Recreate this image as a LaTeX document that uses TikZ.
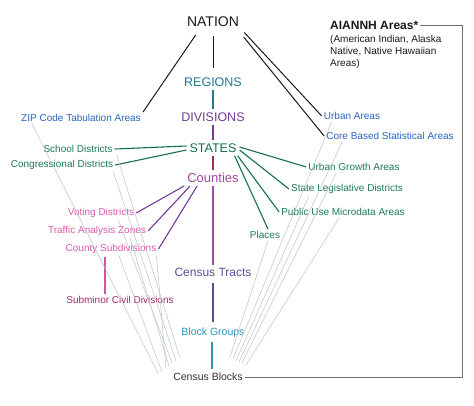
\documentclass[tikz,border=0pt]{standalone}
\usepackage{fontspec}
\setmainfont{Liberation Sans}
\usetikzlibrary{calc}
\definecolor{nero}{RGB}{25,25,25}
\definecolor{regcol}{RGB}{30,120,150}
\definecolor{divcol}{RGB}{115,60,150}
\definecolor{stcol}{RGB}{20,110,80}
\definecolor{cntcol}{RGB}{165,70,160}
\definecolor{trcol}{RGB}{95,75,155}
\definecolor{bgcol}{RGB}{40,150,180}
\definecolor{blcol}{RGB}{50,50,50}
\definecolor{blu}{RGB}{40,100,190}
\definecolor{verde}{RGB}{30,120,85}
\definecolor{rosa}{RGB}{220,90,170}
\definecolor{bordo}{RGB}{165,45,95}
\definecolor{grigio}{RGB}{185,193,205}
\definecolor{cornice}{RGB}{110,110,110}

\begin{document}
\begin{tikzpicture}[x = 1pt, y = -1pt,
    lbl/.style = {font = \fontsize{10}{12}\selectfont, inner sep = 2pt},
    liv/.style = {font = \fontsize{12.5}{14}\selectfont, inner sep = 3pt},
    nat/.style = {line width = 1pt, nero},
    ramo/.style = {line width = 1.1pt},
    fascio/.style = {line width = 0.5pt, grigio}]
    % Parametri
    \pgfmathsetmacro{\cx}{213}
    \useasboundingbox (0,0) rectangle (474,405);
    % Livelli
    \node[liv, font = \fontsize{14}{16}\selectfont, text = nero] (nation) at (\cx,22) {NATION};
    \node[liv, text = regcol] (regions) at (\cx,82) {REGIONS};
    \node[liv, text = divcol] (divisions) at (\cx,117) {DIVISIONS};
    \node[liv, text = stcol] (states) at (\cx,148) {STATES};
    \node[liv, font = \fontsize{13}{15}\selectfont, text = cntcol] (counties) at (\cx,178) {Counties};
    \node[liv, font = \fontsize{12}{14}\selectfont, text = trcol] (tracts) at (\cx,272) {Census Tracts};
    \node[lbl, font = \fontsize{10.5}{12}\selectfont, text = bgcol] (bgroups) at (\cx,333) {Block Groups};
    \node[lbl, font = \fontsize{10.5}{12}\selectfont, text = blcol] (blocks) at (208,377) {Census Blocks};
    % Etichette
    \node[lbl, text = blu] (zip) at (81,118) {ZIP Code Tabulation Areas};
    \node[lbl, text = verde] (school) at (78,149) {School Districts};
    \node[lbl, text = verde] (congr) at (62,165) {Congressional Districts};
    \node[lbl, text = rosa] (voting) at (101,213) {Voting Districts};
    \node[lbl, text = rosa] (traffic) at (97,231) {Traffic Analysis Zones};
    \node[lbl, text = rosa] (countysub) at (111,249) {County Subdivisions};
    \node[lbl, text = bordo] (subminor) at (120,300) {Subminor Civil Divisions};
    \node[lbl, text = blu] (urban) at (352,116) {Urban Areas};
    \node[lbl, text = blu] (cbsa) at (390,136) {Core Based Statistical Areas};
    \node[lbl, text = verde] (ugrowth) at (354,167) {Urban Growth Areas};
    \node[lbl, text = verde] (stateleg) at (347,189) {State Legislative Districts};
    \node[lbl, text = verde] (puma) at (343,212) {Public Use Microdata Areas};
    \node[lbl, text = verde] (places) at (265,235) {Places};
    \node[lbl, anchor = west, font = \fontsize{12}{14}\selectfont\bfseries, text = nero] (aiannh) at (328,25) {AIANNH Areas*};
    \node[lbl, anchor = north west, align = left, text = nero] (aiannhtxt) at (328,33) {(American Indian, Alaska\\Native, Native Hawaiian\\Areas)};
    % Colonna centrale
    \draw[nat, shorten <= 6pt, shorten >= 6pt] (nation) -- (regions);
    \draw[ramo, regcol] (regions) -- (divisions);
    \draw[ramo, divcol] (divisions) -- (states);
    \draw[ramo, bordo] (states) -- (counties);
    \draw[ramo, cntcol] (counties) -- (tracts);
    \draw[ramo, trcol, shorten <= 4pt, shorten >= 4pt] (tracts) -- (bgroups);
    \draw[ramo, bgcol, shorten <= 2pt, shorten >= 2pt] ([xshift = -1pt]bgroups.south) -- ([xshift = -1pt]bgroups.south |- blocks.north);
    % Da NATION
    \draw[nat, shorten <= 6pt] ([xshift = -14pt]nation.south) -- (zip.north east);
    \draw[nat, shorten <= 3pt] (nation.south east) -- (urban.west);
    \draw[nat, shorten <= 9pt] ([xshift = -4pt]nation.south east) -- (cbsa.west);
    % Da STATES
    \draw[ramo, stcol] ([yshift = 2pt]states.west) -- (school.east);
    \draw[ramo, stcol] ([yshift = -2pt]states.west) -- (congr.east);
    \draw[ramo, stcol] ([yshift = 1pt]states.east) -- (ugrowth.west);
    \draw[ramo, stcol] ([yshift = -2pt]states.east) -- (stateleg.west);
    \draw[ramo, stcol] ([xshift = -2pt]states.south east) -- (puma.west);
    \draw[ramo, stcol] ([xshift = -5pt]states.south east) -- ([xshift = 3pt]places.north);
    % Da Counties
    \draw[ramo, divcol] (counties.south west) -- (voting.east);
    \draw[ramo, divcol] ([xshift = 6pt]counties.south west) -- (traffic.east);
    \draw[ramo, divcol] ([xshift = 13pt]counties.south west) -- (countysub.east);
    \draw[ramo, rosa!85!bordo, shorten <= 1pt] ([xshift = -6pt]countysub.south) -- ([xshift = -6pt]countysub.south |- subminor.north);
    % AIANNH
    \coordinate (angolo) at (462,377);
    \draw[line width = 1pt, cornice] (aiannh.east) -| (angolo) -- (blocks.east);
    % Fasci grigi
    \coordinate (gl1) at (158,373);
    \coordinate (gl2) at (162,372);
    \coordinate (gl3) at (166,369);
    \coordinate (gl4) at (169,366);
    \coordinate (gl5) at (172,363);
    \coordinate (gl6) at (176,361);
    \coordinate (gl7) at (180,358);
    \draw[fascio] ([xshift = 13pt]zip.south west) -- (gl1);
    \draw[fascio] ([xshift = 8pt]countysub.south) -- (gl2);
    \draw[fascio] ([xshift = -2pt]countysub.south east) -- (gl3);
    \draw[fascio] ([xshift = -18pt]traffic.south east) -- (gl4);
    \draw[fascio] ([xshift = -18pt]voting.south east) -- (gl5);
    \draw[fascio] ([xshift = -2pt]congr.south east) -- (gl6);
    \draw[fascio] ([xshift = 2pt]school.south east) -- (gl7);
    \coordinate (gr1) at (230,357);
    \coordinate (gr2) at (233,359);
    \coordinate (gr3) at (236,361);
    \coordinate (gr4) at (239,362);
    \coordinate (gr5) at (242,363);
    \coordinate (gr6) at (246,365);
    \draw[fascio] ([xshift = 3pt]places.south) -- (gr1);
    \draw[fascio] ([xshift = 10pt]urban.south west) -- (gr2);
    \draw[fascio] ([xshift = 20pt]stateleg.south west) -- (gr3);
    \draw[fascio] ([xshift = 18pt]cbsa.south west) -- (gr4);
    \draw[fascio] ([xshift = 30pt]ugrowth.south west) -- (gr5);
    \draw[fascio] ([xshift = 60pt]puma.south west) -- (gr6);
\end{tikzpicture}
\end{document}
